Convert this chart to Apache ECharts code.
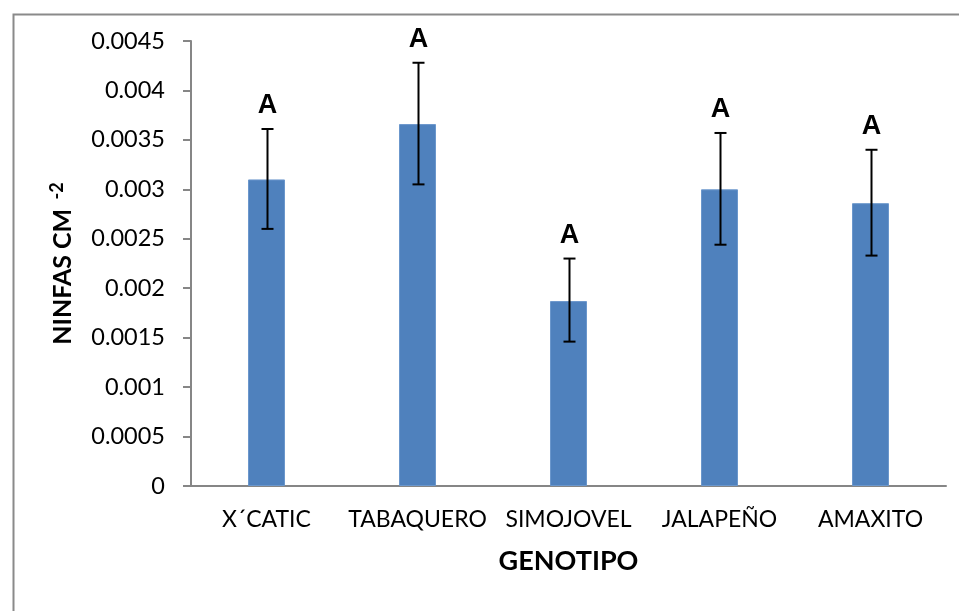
<!DOCTYPE html>
<html>
<head>
<meta charset="utf-8">
<script src="https://cdn.jsdelivr.net/npm/echarts@6/dist/echarts.min.js"></script>
<style>html,body{margin:0;padding:0;background:#fff;}#c{width:959px;height:611px;}</style>
</head>
<body>
<div id="c"></div>
<script>
const categories = ['X\u00B4CATIC', 'TABAQUERO', 'SIMOJOVEL', 'JALAPEÑO', 'AMAXITO'];
const means = [0.00310, 0.00366, 0.00187, 0.00300, 0.00286];
const errLow = [0.00260, 0.00305, 0.00146, 0.00244, 0.00233];
const errHigh = [0.00361, 0.00428, 0.00230, 0.00357, 0.00340];
const letters = ['A', 'A', 'A', 'A', 'A'];

const errData = categories.map((c, i) => [i, errLow[i], errHigh[i], letters[i]]);

const chart = echarts.init(document.getElementById('c'), null, {renderer: 'canvas'});
chart.setOption({
  animation: false,
  backgroundColor: '#fff',
  graphic: [{
    type: 'rect', left: 11, top: 12, z: 100,
    shape: {x: 0, y: 0, width: 1200, height: 1200},
    style: {fill: 'none', stroke: '#8a8a8a', lineWidth: 2}
  }],
  grid: {left: 191, top: 41, right: 13, bottom: 125, containLabel: false},
  xAxis: {
    type: 'category',
    data: categories,
    name: 'GENOTIPO',
    nameLocation: 'middle',
    nameGap: 62,
    nameTextStyle: {fontFamily: 'Lato', fontWeight: 'bold', fontSize: 27, color: '#000'},
    axisLine: {lineStyle: {color: '#868686', width: 2}},
    axisTick: {show: false},
    axisLabel: {interval: 0, fontFamily: 'Lato', fontSize: 23, color: '#000', margin: 22}
  },
  yAxis: {
    type: 'value',
    min: 0, max: 0.0045, interval: 0.0005,
    name: '{n|NINFAS CM} {s|-2}',
    nameLocation: 'middle',
    nameRotate: 90,
    nameGap: 113,
    nameTextStyle: {
      rich: {
        n: {fontFamily: 'Lato', fontWeight: 'bold', fontSize: 25, color: '#000'},
        s: {fontFamily: 'Lato', fontWeight: 'bold', fontSize: 18, color: '#000', verticalAlign: 'top', padding: [0, 0, 12, 6]}
      }
    },
    axisLine: {show: true, lineStyle: {color: '#868686', width: 2}},
    axisTick: {show: true, inside: false, length: 8, lineStyle: {color: '#868686', width: 2}},
    splitLine: {show: false},
    axisLabel: {fontFamily: 'Lato', fontSize: 23.5, color: '#000', margin: 26}
  },
  series: [{
    type: 'bar',
    data: means,
    barWidth: 37,
    itemStyle: {color: '#4F81BD', borderColor: '#6b97cc', borderWidth: 1}
  }, {
    type: 'custom',
    data: errData,
    encode: {x: 0, y: [1, 2]},
    z: 10,
    renderItem: function (params, api) {
      const idx = api.value(0);
      const lo = api.coord([idx, api.value(1)]);
      const hi = api.coord([idx, api.value(2)]);
      const x = Math.round(lo[0]) + 0.5;
      const hw = 6;
      const st = {stroke: '#000', lineWidth: 2};
      return {
        type: 'group',
        children: [
          {type: 'line', shape: {x1: x, y1: hi[1], x2: x, y2: lo[1]}, style: st},
          {type: 'line', shape: {x1: x - hw, y1: hi[1], x2: x + hw, y2: hi[1]}, style: st},
          {type: 'line', shape: {x1: x - hw, y1: lo[1], x2: x + hw, y2: lo[1]}, style: st},
          {type: 'text', style: {
            text: letters[params.dataIndex], x: x, y: hi[1] - 23,
            align: 'center', verticalAlign: 'middle',
            fontFamily: 'Liberation Sans', fontWeight: 'bold', fontSize: 27, fill: '#000'
          }}
        ]
      };
    }
  }]
});
</script>
</body>
</html>
